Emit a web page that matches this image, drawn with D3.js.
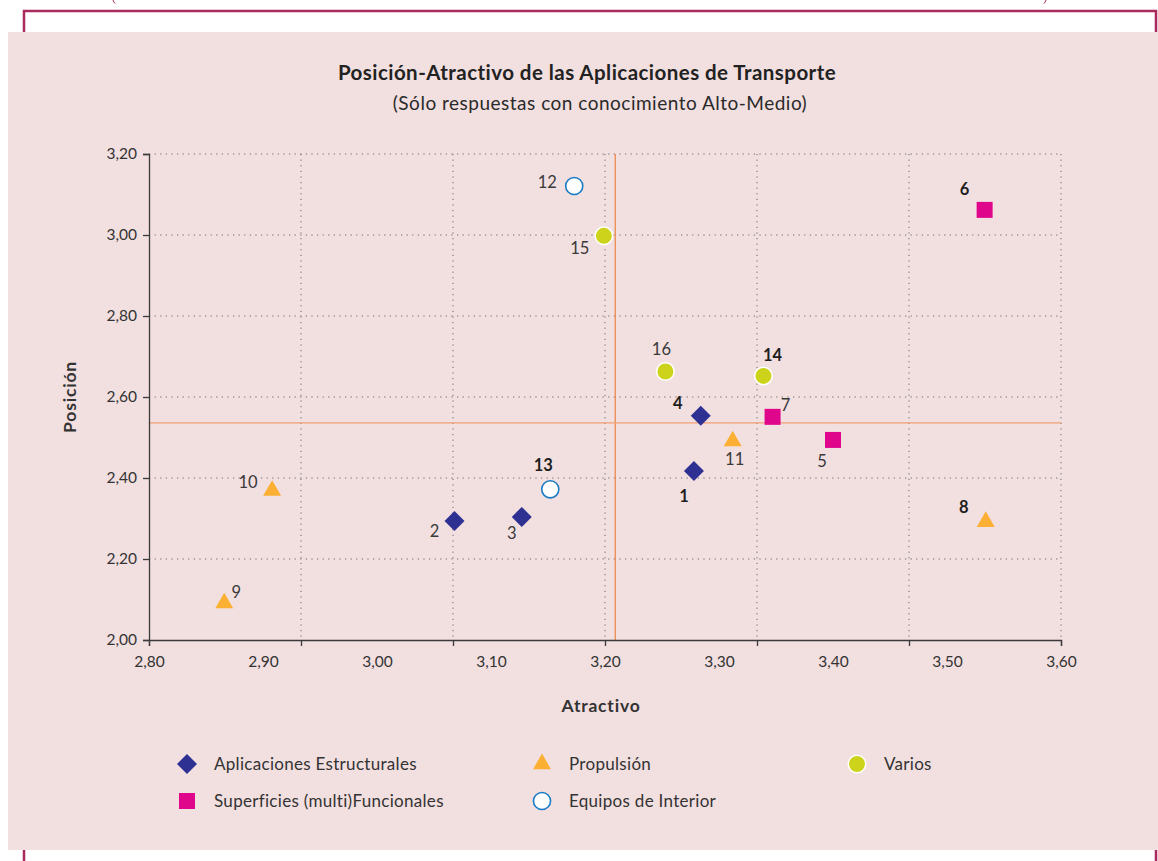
<!DOCTYPE html>
<html>
<head>
<meta charset="utf-8">
<script src="https://cdn.jsdelivr.net/npm/d3@7"></script>
<style>
  body { margin: 0; background: #fff; }
  svg { display: block; font-family: Lato, "Open Sans", sans-serif; }
</style>
</head>
<body>
<div id="chart"></div>
<script>
"use strict";

// series: id numbers, atractivo (x) and posicion (y)
const estructuralesIds = [1, 2, 3, 4];
const estructuralesX = [3.278, 3.068, 3.127, 3.284];
const estructuralesY = [2.417, 2.294, 2.304, 2.554];

const superficiesIds = [5, 6, 7];
const superficiesX = [3.400, 3.533, 3.347];
const superficiesY = [2.494, 3.062, 2.551];

const propulsionIds = [8, 9, 10, 11];
const propulsionX = [3.534, 2.866, 2.908, 3.312];
const propulsionY = [2.292, 2.091, 2.369, 2.491];

const equiposIds = [12, 13];
const equiposX = [3.173, 3.152];
const equiposY = [3.121, 2.372];

const variosIds = [14, 15, 16];
const variosX = [3.339, 3.199, 3.253];
const variosY = [2.652, 2.998, 2.663];

const boldIds = [1, 4, 6, 8, 13, 14];

const xRef = 3.209;
const yRef = 2.536;

const xTickLabels = ["2,80", "2,90", "3,00", "3,10", "3,20", "3,30", "3,40", "3,50", "3,60"];
const yTickLabels = ["2,00", "2,20", "2,40", "2,60", "2,80", "3,00", "3,20"];

const seriesNames = ["Aplicaciones Estructurales", "Superficies (multi)Funcionales", "Propulsión", "Equipos de Interior", "Varios"];

// label offsets from the marker centre (dx, dy)
const labelOffsets = {
  1: [-10, 25], 2: [-20, 10], 3: [-10, 16], 4: [-23, -12], 5: [-11, 21],
  6: [-20, -21], 7: [13, -12], 8: [-22, -15], 9: [12, -11], 10: [-24, -8],
  11: [2, 18], 12: [-27, -4], 13: [-7, -24], 14: [9, -21], 15: [-24, 12], 16: [-4, -22]
};

const width = 1158;
const height = 861;
const plotLeft = 149, plotRight = 1061, plotTop = 154, plotBottom = 640;

const svg = d3.select("#chart")
  .append("svg")
  .attr("width", width)
  .attr("height", height);

// frame
svg.append("rect")
  .attr("x", 24).attr("y", 11)
  .attr("width", 1132).attr("height", 900)
  .attr("fill", "#fff")
  .attr("stroke", "#a92a5c")
  .attr("stroke-width", 2.5);

// bits of the brackets above the frame (cut by the page edge)
svg.append("path").attr("d", "M113,0 Q113.5,2 115,3.5").attr("fill", "none").attr("stroke", "#a92a5c").attr("stroke-width", 1);
svg.append("path").attr("d", "M1046,0 Q1045.5,2 1044,3.5").attr("fill", "none").attr("stroke", "#a92a5c").attr("stroke-width", 1);

svg.append("rect")
  .attr("x", 8).attr("y", 32)
  .attr("width", 1150).attr("height", 818)
  .attr("fill", "#f2dfe0");

const xScale = d3.scaleLinear().domain([2.8, 3.6]).range([plotLeft, plotRight]);
const yScale = d3.scaleLinear().domain([2.0, 3.2]).range([plotBottom, plotTop]);

const xLabelValues = xTickLabels.map(s => +s.replace(",", "."));
const yLabelValues = yTickLabels.map(s => +s.replace(",", "."));
// the vertical grid in the original is split in 6 equal parts, not at the labels
const xGridValues = d3.range(7).map(i => 2.8 + i * 0.8 / 6);

// grid
svg.append("g")
  .selectAll("line")
  .data(yLabelValues.slice(1))
  .enter()
  .append("line")
  .attr("x1", plotLeft).attr("x2", plotRight)
  .attr("y1", d => yScale(d)).attr("y2", d => yScale(d))
  .attr("stroke", "#6a6a6a")
  .attr("stroke-width", 1)
  .attr("stroke-dasharray", "1.2,4.4");

svg.append("g")
  .selectAll("line")
  .data(xGridValues.slice(1))
  .enter()
  .append("line")
  .attr("x1", d => xScale(d)).attr("x2", d => xScale(d))
  .attr("y1", plotTop).attr("y2", plotBottom)
  .attr("stroke", "#6a6a6a")
  .attr("stroke-width", 1)
  .attr("stroke-dasharray", "1.2,4.4");

// reference lines
svg.append("line")
  .attr("x1", xScale(xRef)).attr("x2", xScale(xRef))
  .attr("y1", plotTop).attr("y2", plotBottom)
  .attr("stroke", "#ee8a4e").attr("stroke-width", 1.3);
svg.append("line")
  .attr("x1", plotLeft).attr("x2", plotRight)
  .attr("y1", yScale(yRef)).attr("y2", yScale(yRef))
  .attr("stroke", "#f3a070").attr("stroke-width", 1.3);

// axes
const yAxis = svg.append("g")
  .attr("transform", `translate(${plotLeft},0)`)
  .call(d3.axisLeft(yScale).tickValues(yLabelValues).tickSize(6).tickPadding(6)
    .tickFormat((d, i) => yTickLabels[i]));

const xAxis = svg.append("g")
  .attr("transform", `translate(0,${plotBottom})`)
  .call(d3.axisBottom(xScale).tickValues(xGridValues).tickSize(6).tickFormat(""));

const xLabels = svg.append("g")
  .attr("transform", `translate(0,${plotBottom})`)
  .call(d3.axisBottom(xScale).tickValues(xLabelValues).tickSize(0).tickPadding(16)
    .tickFormat((d, i) => xTickLabels[i]));
xLabels.select(".domain").remove();

[yAxis, xAxis, xLabels].forEach(g => {
  g.select(".domain").attr("stroke", "#3a3a3a").attr("stroke-width", 1.3);
  g.selectAll(".tick line").attr("stroke", "#3a3a3a").attr("stroke-width", 1.3);
  g.selectAll("text")
    .attr("font-family", "Lato, sans-serif")
    .attr("font-size", 15.5)
    .attr("fill", "#333");
});

// titles
svg.append("text")
  .attr("x", 587).attr("y", 80)
  .attr("text-anchor", "middle")
  .attr("font-size", 20.5).attr("font-weight", "bold").attr("fill", "#222")
  .attr("letter-spacing", 0.45)
  .text("Posición-Atractivo de las Aplicaciones de Transporte");
svg.append("text")
  .attr("x", 600).attr("y", 110)
  .attr("text-anchor", "middle")
  .attr("font-size", 19).attr("fill", "#2a2a2a")
  .attr("letter-spacing", 0.5)
  .text("(Sólo respuestas con conocimiento Alto-Medio)");

svg.append("text")
  .attr("x", 601).attr("y", 712)
  .attr("text-anchor", "middle")
  .attr("font-size", 17.5).attr("font-weight", "bold").attr("fill", "#333")
  .attr("letter-spacing", 0.8)
  .text("Atractivo");
svg.append("text")
  .attr("transform", "translate(76,397) rotate(-90)")
  .attr("text-anchor", "middle")
  .attr("font-size", 17.5).attr("font-weight", "bold").attr("fill", "#333")
  .attr("letter-spacing", 0.8)
  .text("Posición");

// marker styles
const styles = [
  { type: d3.symbolSquare, size: 200, rotate: 45, fill: "#2e3192", stroke: "none", sw: 0 },
  { type: d3.symbolSquare, size: 256, rotate: 0, fill: "#e0068c", stroke: "none", sw: 0 },
  { type: d3.symbolTriangle, size: 140, rotate: 0, fill: "#fbb034", stroke: "none", sw: 0 },
  { type: d3.symbolCircle, size: 230, rotate: 0, fill: "#ffffff", stroke: "#1b7bc4", sw: 1.6 },
  { type: d3.symbolCircle, size: 240, rotate: 0, fill: "#cdd31a", stroke: "#ffffff", sw: 1.5 }
];

const series = [
  [estructuralesIds, estructuralesX, estructuralesY],
  [superficiesIds, superficiesX, superficiesY],
  [propulsionIds, propulsionX, propulsionY],
  [equiposIds, equiposX, equiposY],
  [variosIds, variosX, variosY]
];

const points = [];
series.forEach((s, k) => {
  s[0].forEach((id, i) => points.push({ id, x: s[1][i], y: s[2][i], k }));
});

const symbolPath = st => d3.symbol().type(st.type).size(st.size)();

svg.append("g")
  .selectAll("path")
  .data(points)
  .enter()
  .append("path")
  .attr("d", d => symbolPath(styles[d.k]))
  .attr("transform", d => `translate(${xScale(d.x)},${yScale(d.y)}) rotate(${styles[d.k].rotate})`)
  .attr("fill", d => styles[d.k].fill)
  .attr("stroke", d => styles[d.k].stroke)
  .attr("stroke-width", d => styles[d.k].sw);

svg.append("g")
  .selectAll("text")
  .data(points)
  .enter()
  .append("text")
  .attr("x", d => xScale(d.x) + labelOffsets[d.id][0])
  .attr("y", d => yScale(d.y) + labelOffsets[d.id][1])
  .attr("dy", "0.35em")
  .attr("text-anchor", "middle")
  .attr("font-size", 16.5)
  .attr("font-weight", d => boldIds.includes(d.id) ? "bold" : "normal")
  .attr("fill", d => boldIds.includes(d.id) ? "#1e1e1e" : "#3a3a3a")
  .text(d => d.id);

// legend
const legendPos = [[187, 764], [187, 801], [542, 764], [542, 801], [857, 764]];
const legend = svg.append("g")
  .selectAll("g")
  .data(seriesNames)
  .enter()
  .append("g")
  .attr("transform", (d, i) => `translate(${legendPos[i][0]},${legendPos[i][1]})`);

legend.append("path")
  .attr("d", (d, i) => symbolPath(styles[i]))
  .attr("transform", (d, i) => `rotate(${styles[i].rotate})`)
  .attr("fill", (d, i) => styles[i].fill)
  .attr("stroke", (d, i) => styles[i].stroke)
  .attr("stroke-width", (d, i) => styles[i].sw);

legend.append("text")
  .attr("x", 27)
  .attr("dy", "0.35em")
  .attr("font-size", 17)
  .attr("letter-spacing", 0.3)
  .attr("fill", "#333")
  .text(d => d);
</script>
</body>
</html>
